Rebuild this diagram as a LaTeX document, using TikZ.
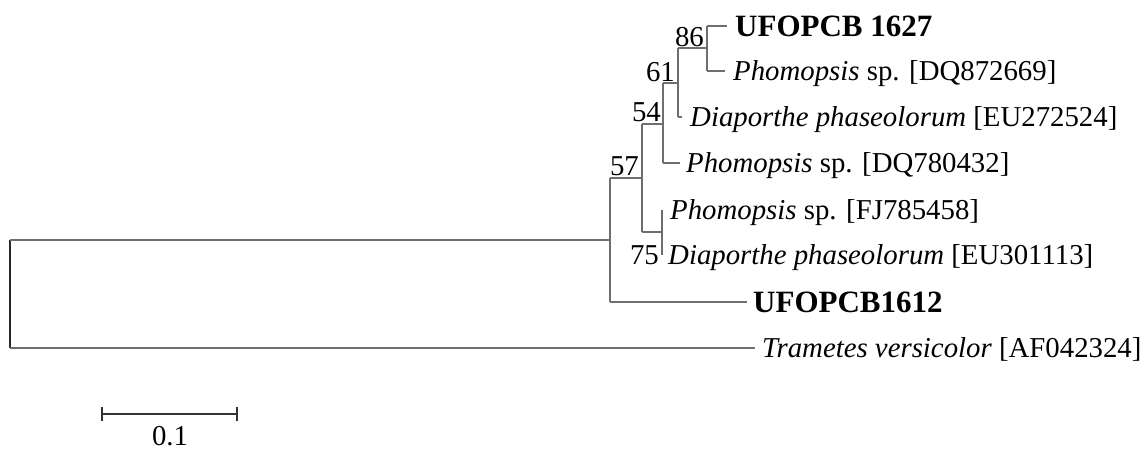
\documentclass[tikz,border=0pt]{standalone}
\usepackage{fontspec}
\setmainfont{Liberation Serif}
\begin{document}
\begin{tikzpicture}[x=1pt,y=-1pt,
  branch/.style={draw={rgb,255:red,110;green,110;blue,110},line width=1.3pt},
  rootline/.style={draw={rgb,255:red,40;green,40;blue,40},line width=1.5pt},
  leaf/.style={anchor=base west,inner sep=0pt,font=\fontsize{28.8}{32}\selectfont},
  boldleaf/.style={anchor=base west,inner sep=0pt,font=\fontsize{31}{34}\selectfont\bfseries},
  boot/.style={anchor=base east,inner sep=0pt,font=\fontsize{28.8}{32}\selectfont},
  scalebar/.style={draw={rgb,255:red,50;green,50;blue,50},line width=1.2pt}]
\useasboundingbox (0,0) rectangle (1145,448);
% tree node coordinates
\coordinate (R1) at (10,240);
\coordinate (R2) at (10,348);
\coordinate (A0) at (610,240);
\coordinate (A1) at (610,178);
\coordinate (A2) at (610,302);
\coordinate (B0) at (642,178);
\coordinate (B1) at (642,124);
\coordinate (B2) at (642,232);
\coordinate (C0) at (663,124);
\coordinate (C1) at (663,83);
\coordinate (C2) at (663,163);
\coordinate (D0) at (678,83);
\coordinate (D1) at (678,48);
\coordinate (D2) at (678,117);
\coordinate (E0) at (707,48);
\coordinate (E1) at (707,26);
\coordinate (E2) at (707,71);
\coordinate (F0) at (662,232);
\coordinate (F1) at (662,210);
\coordinate (F2) at (662,255);
% leaf line ends
\coordinate (e1) at (727,26);
\coordinate (e2) at (725,71);
\coordinate (e3) at (682,117);
\coordinate (e4) at (680,163);
\coordinate (e7) at (747,302);
\coordinate (e8) at (755,348);
% leaf labels
\node[boldleaf] (L1) at (735,36) {UFOPCB 1627};
\node[leaf] (L2) at (733,80) {\textit{Phomopsis} sp. [DQ872669]};
\node[leaf] (L3) at (690,126) {\textit{Diaporthe phaseolorum} [EU272524]};
\node[leaf] (L4) at (686,172) {\textit{Phomopsis} sp. [DQ780432]};
\node[leaf] (L5) at (670,219) {\textit{Phomopsis} sp. [FJ785458]};
\node[leaf] (L6) at (668,264) {\textit{Diaporthe phaseolorum} [EU301113]};
\node[boldleaf] (L7) at (753,312) {UFOPCB1612};
\node[leaf] (L8) at (762,357) {\textit{Trametes versicolor} [AF042324]};
% bootstrap values
\node[boot] (b86) at (704,46) {86};
\node[boot] (b61) at (675,81) {61};
\node[boot] (b54) at (661,121) {54};
\node[boot] (b57) at (639,175) {57};
\node[boot] (b75) at (659,264) {75};
% branches
\draw[rootline] (R1) -- (R2);
\draw[branch] (R1) -- (A0);
\draw[branch] (R2) -- (e8);
\draw[branch] (A1) -- (A2);
\draw[branch] (A2) -- (e7);
\draw[branch] (A1) -- (B0);
\draw[branch] (B1) -- (B2);
\draw[branch] (B1) -- (C0);
\draw[branch] (B2) -- (F0);
\draw[branch] (F1) -- (F2);
\draw[branch] (C1) -- (C2);
\draw[branch] (C2) -- (e4);
\draw[branch] (C1) -- (D0);
\draw[branch] (D1) -- (D2);
\draw[branch] (D2) -- (e3);
\draw[branch] (D1) -- (E0);
\draw[branch] (E1) -- (E2);
\draw[branch] (E1) -- (e1);
\draw[branch] (E2) -- (e2);
% scale bar
\coordinate (s1) at (102,414);
\coordinate (s2) at (237,414);
\draw[scalebar] (s1) -- (s2);
\draw[scalebar] ([yshift=-7pt]s1) -- ([yshift=7pt]s1);
\draw[scalebar] ([yshift=-7pt]s2) -- ([yshift=7pt]s2);
\node[anchor=base,inner sep=0pt,font=\fontsize{28.8}{32}\selectfont] (sl) at (170,445) {0.1};
\end{tikzpicture}
\end{document}
